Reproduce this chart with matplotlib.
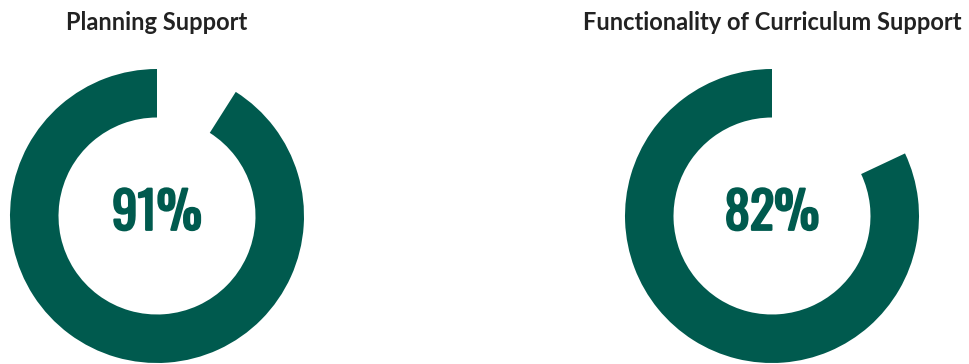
import matplotlib
matplotlib.use("Agg")
import matplotlib.pyplot as plt
import matplotlib.patheffects as pe

titles = ["Planning Support", "Functionality of Curriculum Support"]
values = [91, 82]
centers_x = [157, 772]  # pixel centres of the donuts

GREEN = "#005a4e"
W, H = 970, 364
R = 147

fig = plt.figure(figsize=(W / 100, H / 100), dpi=100)
for title, val, cx in zip(titles, values, centers_x):
    cy = H - 216
    ax = fig.add_axes([(cx - R) / W, (cy - R) / H, 2 * R / W, 2 * R / H])
    ax.pie([val, 100 - val], colors=[GREEN, "none"], startangle=90,
           counterclock=True, radius=1, wedgeprops=dict(width=0.33, linewidth=0))
    ax.set_xlim(-1, 1)
    ax.set_ylim(-1, 1)
    ax.set_aspect("equal")
    ax.axis("off")
    # Oswald here is regular only, so thicken it with a stroke
    ax.text(0, 0.015, f"{val}%", ha="center", va="center", color=GREEN,
            fontsize=36.5, family="Oswald",
            path_effects=[pe.withStroke(linewidth=1.6, foreground=GREEN)])
    fig.text(cx / W, 1 - 23 / H, title, ha="center", va="center",
             color="#222222", fontsize=17, fontweight="bold", family="Lato")

fig.savefig("out.png", dpi=100)
